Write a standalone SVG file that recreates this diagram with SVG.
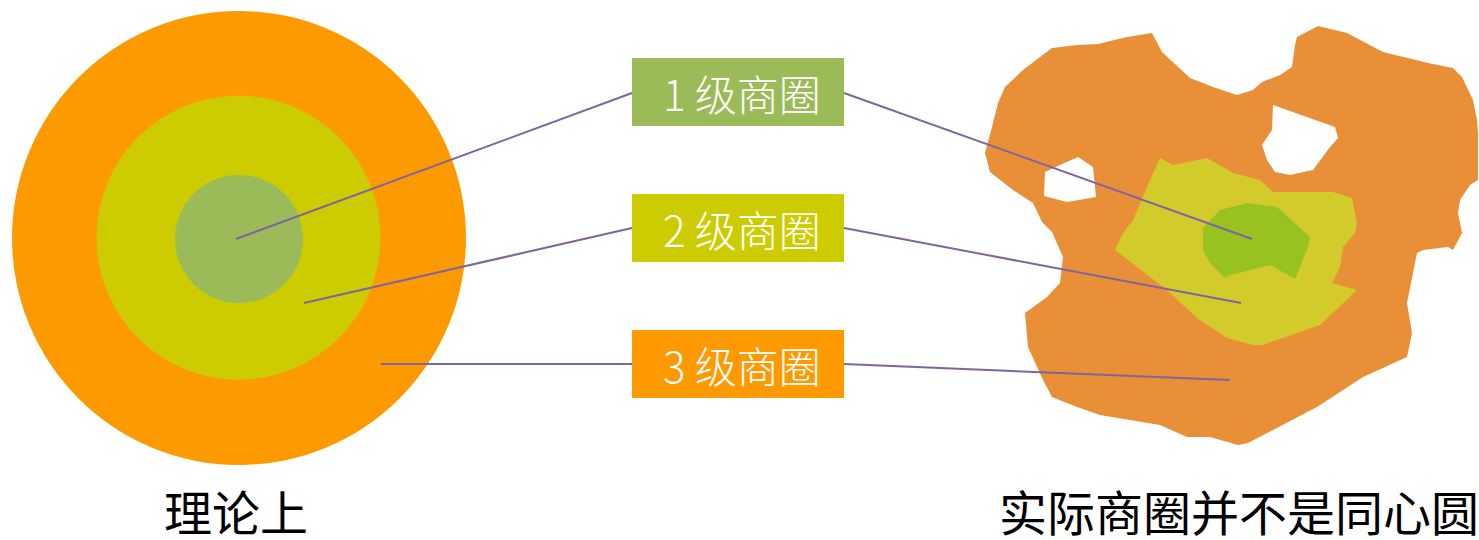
<svg xmlns="http://www.w3.org/2000/svg" width="1479" height="540" viewBox="0 0 1479 540">
<style>
.lbl{font-family:"Noto Sans CJK SC","Noto Sans",sans-serif;font-size:42px;font-weight:300;fill:#FFFFFF;text-anchor:middle}
.cap{font-family:"Noto Sans CJK SC","Noto Sans",sans-serif;font-size:48px;fill:#000000}
.con{stroke:#8064A2;stroke-width:2;fill:none}
</style>
<rect width="1479" height="540" fill="#FFFFFF"/>
<g id="theory">
<circle cx="239" cy="238" r="227" fill="#FD9A00"/>
<circle cx="238.5" cy="237.7" r="142" fill="#CCCC00"/>
<circle cx="239" cy="239" r="64" fill="#9BBB59"/>
</g>
<g id="actual">
<path fill="#E98F38" fill-rule="evenodd" d="M1052,48 L1077,45 L1098,44 L1127,37 L1152,33 L1162,52 L1190,78 L1213,87 L1237,95 L1253,90 L1262,82 L1280,75 L1292,67 L1295,45 L1297,37 L1318,26 L1347,33 L1383,52 L1428,63 L1453,68 L1462,77 L1473,100 L1477,120 L1478,133 L1478,180 L1470,185 L1460,200 L1458,213 L1462,233 L1453,250 L1448,247 L1423,250 L1417,253 L1413,273 L1407,303 L1412,333 L1407,357 L1363,377 L1317,407 L1273,430 L1248,443 L1238,445 L1210,437 L1187,437 L1160,425 L1100,415 L1077,407 L1052,397 L1043,380 L1028,347 L1025,313 L1047,297 L1060,283 L1063,257 L1052,232 L1042,222 L1033,203 L1013,190 L990,172 L985,153 L992,127 L998,103 L1005,87 L1023,70 Z M1045,172 L1060,165 L1078,157 L1093,167 L1096,197 L1067,202 L1044,196 Z M1273,105 L1335,127 L1338,138 L1330,147 L1313,170 L1290,175 L1275,172 L1267,160 L1262,145 L1272,130 Z"/>
<path fill="#D3CA2C" d="M1160,158 L1173,165 L1207,158 L1233,173 L1260,180 L1273,192 L1333,192 L1352,198 L1357,223 L1355,233 L1343,247 L1340,267 L1332,283 L1357,290 L1320,325 L1263,345 L1253,345 L1227,338 L1197,318 L1167,290 L1115,250 L1123,233 L1133,220 L1150,180 Z"/>
<path fill="#97C21F" d="M1220,210 L1247,203 L1277,207 L1310,237 L1308,247 L1295,279 L1270,265 L1230,275 L1225,278 L1210,263 L1203,250 L1203,228 Z"/>
</g>
<g id="connectors">
<line class="con" x1="236" y1="239" x2="632" y2="93"/>
<line class="con" x1="844" y1="93" x2="1252" y2="239"/>
<line class="con" x1="304" y1="303" x2="632" y2="228"/>
<line class="con" x1="844" y1="228" x2="1241" y2="303"/>
<line class="con" x1="381" y1="364" x2="632" y2="364"/>
<line class="con" x1="844" y1="364" x2="1230" y2="380"/>
</g>
<g id="level1">
<rect x="632" y="58" width="212" height="68" fill="#9BBB59"/>
<text class="lbl" x="742" y="111">1 级商圈</text>
</g>
<g id="level2">
<rect x="632" y="194" width="212" height="68" fill="#CCCC00"/>
<text class="lbl" x="742" y="247">2 级商圈</text>
</g>
<g id="level3">
<rect x="632" y="330" width="212" height="68" fill="#FF9900"/>
<text class="lbl" x="742" y="383">3 级商圈</text>
</g>
<g id="captions">
<text class="cap" x="164" y="531">理论上</text>
<text class="cap" x="999" y="531">实际商圈并不是同心圆</text>
</g>
</svg>
